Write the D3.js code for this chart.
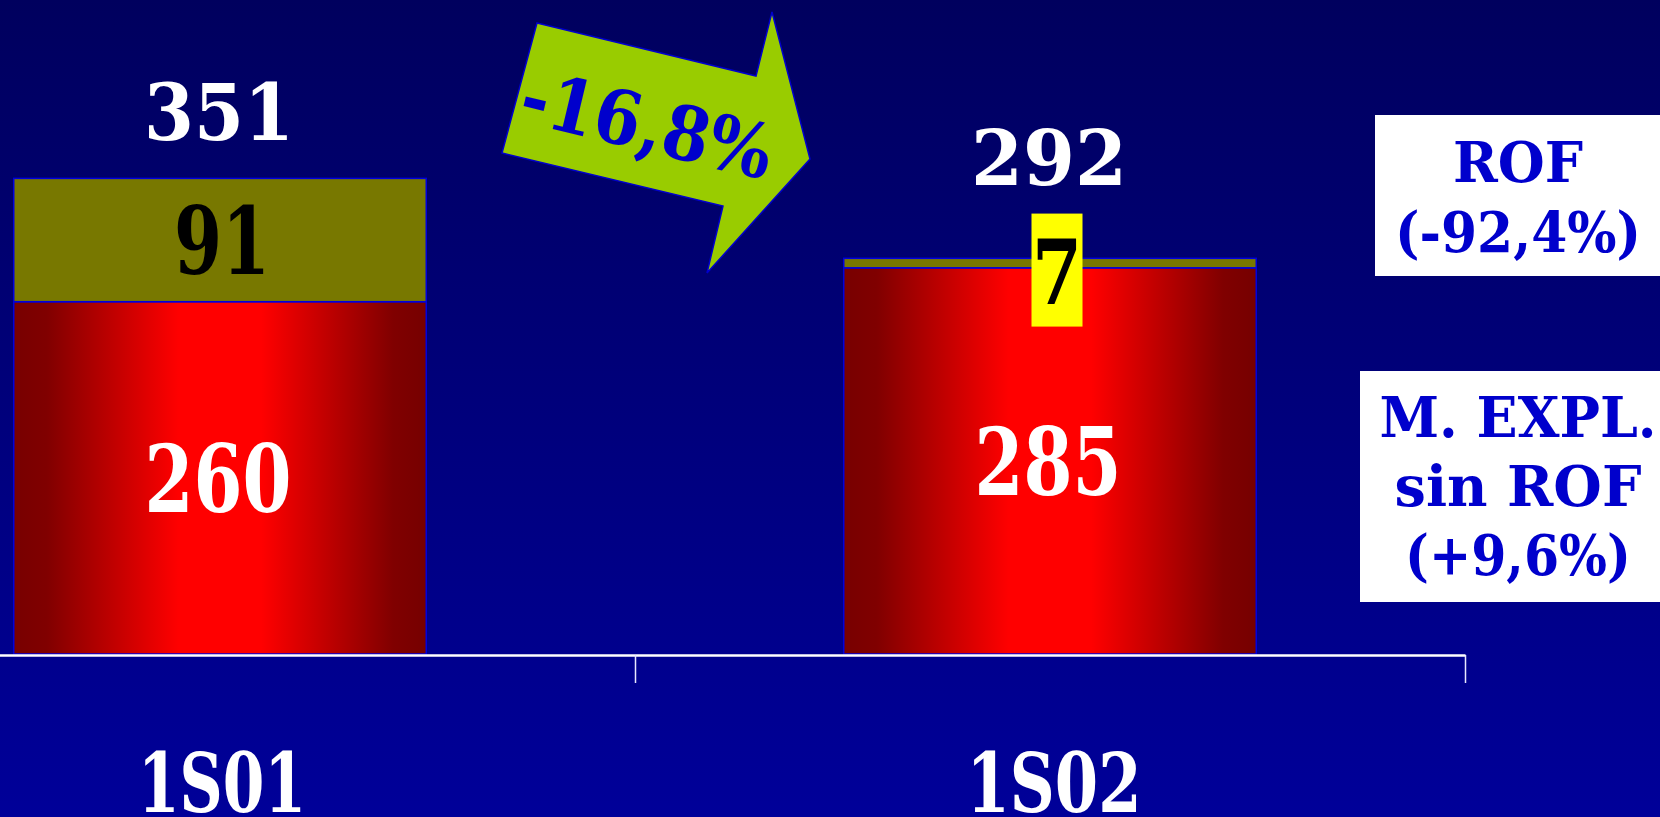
<!DOCTYPE html>
<html><head><meta charset="utf-8">
<script src="https://cdn.jsdelivr.net/npm/d3@7"></script>
<style>html,body{margin:0;padding:0;background:#000080;overflow:hidden}</style>
</head><body><svg id="c" width="1660" height="817"></svg>
<script>
// ---- data ----
const categories = ["1S01", "1S02"];
const mExplSinRof = [260, 285];
const rofValues = [91, 7];
const totals = [351, 292];
const rofLegend = ["ROF", "(-92,4%)"];
const mExplLegend = ["M. EXPL.", "sin ROF", "(+9,6%)"];
const changeLabel = "-16,8%";

// ---- layout ----
const W = 1660, H = 817;
const FONT = "'DejaVu Serif', serif";
const svg = d3.select("#c");
const defs = svg.append("defs");

const bg = defs.append("linearGradient").attr("id", "bg").attr("x1", 0).attr("y1", 0).attr("x2", 0).attr("y2", 1);
bg.append("stop").attr("offset", 0).attr("stop-color", "#00005e");
bg.append("stop").attr("offset", 1).attr("stop-color", "#000099");

const rg = defs.append("linearGradient").attr("id", "red").attr("x1", 0).attr("y1", 0).attr("x2", 1).attr("y2", 0);
[[0, "#780000"], [0.08, "#800000"], [0.40, "#ff0000"], [0.60, "#ff0000"], [0.92, "#800000"], [1, "#760000"]]
  .forEach(s => rg.append("stop").attr("offset", s[0]).attr("stop-color", s[1]));

svg.append("rect").attr("width", W).attr("height", H).attr("fill", "url(#bg)");

const x = d3.scaleBand().domain(categories).range([-195, 1465]).padding(0);
const y = d3.scaleLinear().domain([0, 400]).range([654, 112]);
const barW = x.bandwidth() * 0.497;
const bx = c => x(c) + (x.bandwidth() - barW) / 2;
const cx = c => x(c) + x.bandwidth() / 2;

const rows = categories.map((c, i) => ({cat: c, mExpl: mExplSinRof[i], rof: rofValues[i]}));
const series = d3.stack().keys(["mExpl", "rof"])(rows);
const fills = {mExpl: "url(#red)", rof: "#787800"};

svg.append("g").selectAll("g").data(series).join("g")
  .attr("fill", s => fills[s.key])
  .selectAll("rect").data(s => s).join("rect")
  .attr("x", d => bx(d.data.cat))
  .attr("width", barW)
  .attr("y", d => y(d[1]))
  .attr("height", d => y(d[0]) - y(d[1]))
  .attr("stroke", "#0000dd").attr("stroke-width", 1.5);

// axis (category boundaries as ticks)
const xb = d3.scaleLinear().domain([0, categories.length]).range(x.range());
const axG = svg.append("g").attr("transform", "translate(0,655)")
  .call(d3.axisBottom(xb).tickValues(d3.range(categories.length + 1)).tickFormat("").tickSizeInner(28).tickSizeOuter(0));
axG.select(".domain").attr("stroke", "#ffffff").attr("stroke-width", 2.5);
axG.selectAll(".tick line").attr("stroke", "#e8e8ff").attr("stroke-width", 1.5);

function label(text, px, baseline, size, len, fill) {
  return svg.append("text").attr("x", px).attr("y", baseline)
    .attr("text-anchor", "middle").attr("font-family", FONT).attr("font-weight", "bold")
    .attr("font-size", size).attr("textLength", len).attr("lengthAdjust", "spacingAndGlyphs")
    .attr("fill", fill).text(text);
}

// segment labels
const segSize = 93, digitH = 0.729;
const segLen = v => String(v).length === 1 ? 50 : (String(v).length === 2 ? 96 : 147);
series[0].forEach(d => {
  const mid = (y(d[0]) + y(d[1])) / 2;
  label(String(d.data.mExpl), cx(d.data.cat) - 2, mid + digitH * segSize / 2, segSize, segLen(d.data.mExpl), "#ffffff");
});
const boxTops = [];
series[1].forEach(d => {
  const mid = (y(d[0]) + y(d[1])) / 2;
  const h = y(d[0]) - y(d[1]);
  if (h > 60) {
    label(String(d.data.rof), cx(d.data.cat) + 2, mid + digitH * segSize / 2, segSize, segLen(d.data.rof), "#000000");
    boxTops.push(y(d[1]));
  } else {
    const bw = 51, bh = 113, c = cx(d.data.cat) + 7, cy = mid + 7;
    svg.append("rect").attr("x", c - bw / 2).attr("y", cy - bh / 2).attr("width", bw).attr("height", bh).attr("fill", "#ffff00");
    label(String(d.data.rof), c, cy + 34, 90, 50, "#000000");
    boxTops.push(Math.min(y(d[1]), cy - bh / 2));
  }
});

// totals
const totalGap = [38, 29];
const totalLen = [150, 156];
totals.forEach((t, i) => {
  label(String(t), cx(categories[i]) - 1, boxTops[i] - totalGap[i], i === 0 ? 78 : 77, totalLen[i], "#ffffff");
});

// category labels
const catLen = [168, 175];
categories.forEach((c, i) => label(c, cx(c) + (i === 0 ? 2 : 4), 812, 82, catLen[i], "#ffffff"));

// legend boxes
svg.append("rect").attr("x", 1375).attr("y", 115).attr("width", 290).attr("height", 161).attr("fill", "#ffffff");
const rofLens = [130, 246];
rofLegend.forEach((t, i) => label(t, 1518, 182 + i * 70, 56, rofLens[i], "#0000cc"));
svg.append("rect").attr("x", 1360).attr("y", 371).attr("width", 300).attr("height", 231).attr("fill", "#ffffff");
const mLens = [277, 247, 226];
mExplLegend.forEach((t, i) => label(t, 1518, 437 + i * 69, 56, mLens[i], "#0000cc"));

// change arrow
const arrowPts = [[537, 23], [756, 76], [772, 12], [810, 159], [707, 273], [723, 206], [502, 153]];
svg.append("path").attr("d", d3.line()(arrowPts) + "Z")
  .attr("fill", "#99cc00").attr("stroke", "#0000cc").attr("stroke-width", 1.5);
svg.append("text").attr("transform", "translate(641,150) rotate(13.5)")
  .attr("text-anchor", "middle").attr("font-family", FONT).attr("font-weight", "bold")
  .attr("font-size", 75).attr("textLength", 256).attr("lengthAdjust", "spacingAndGlyphs")
  .attr("fill", "#0000cc").text(changeLabel);
</script></body></html>
